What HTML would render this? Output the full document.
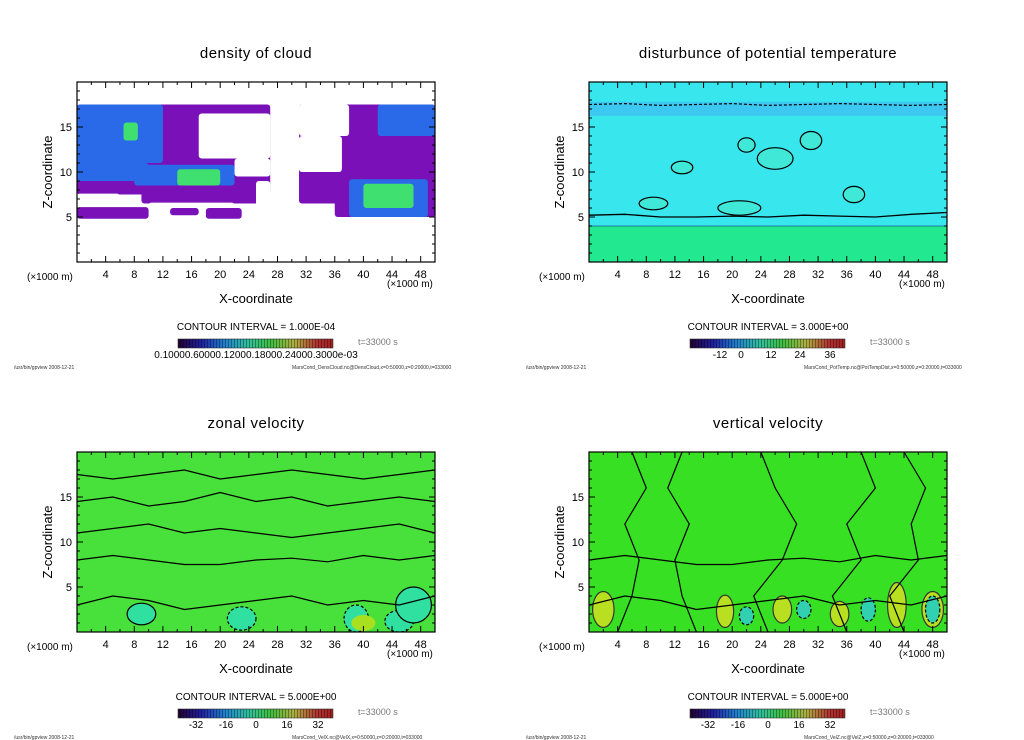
<!DOCTYPE html>
<html><head><meta charset="utf-8"><style>
html,body{margin:0;padding:0;background:#fff;}
svg{display:block;font-family:"Liberation Sans",sans-serif;}
</style></head><body>
<svg id="s" width="1024" height="740" viewBox="0 0 1024 740" xmlns="http://www.w3.org/2000/svg">
<defs>
<linearGradient id="cb" x1="0" x2="1" y1="0" y2="0">
<stop offset="0" stop-color="#200030"/><stop offset="0.15" stop-color="#2020a0"/><stop offset="0.3" stop-color="#2080d0"/><stop offset="0.45" stop-color="#30c0a0"/><stop offset="0.6" stop-color="#40c040"/><stop offset="0.75" stop-color="#b0b040"/><stop offset="0.9" stop-color="#b03030"/><stop offset="1" stop-color="#a02020"/>
</linearGradient>
<pattern id="stripe" width="3" height="10" patternUnits="userSpaceOnUse"><rect x="0" width="1" height="10" fill="rgba(0,0,0,0.35)"/></pattern>
</defs>
</svg>
<script>
// ---- data (x in 1000 m, z in 1000 m) ----
const xTicks=[4,8,12,16,20,24,28,32,36,40,44,48];
const zTicks=[5,10,15];
const titles=["density of cloud","disturbunce of potential temperature","zonal velocity","vertical velocity"];
const intervals=["1.000E-04","3.000E+00","5.000E+00","5.000E+00"];
const files=["MarsCond_DensCloud.nc@DensCloud,x=0:50000,z=0:20000,t=033000","MarsCond_PotTemp.nc@PotTempDist,x=0:50000,z=0:20000,t=033000","MarsCond_VelX.nc@VelX,x=0:50000,z=0:20000,t=033000","MarsCond_VelZ.nc@VelZ,x=0:50000,z=0:20000,t=033000"];
const cbLabels=[["0.10000.60000.12000.18000.24000.3000e-03"],["-12","0","12","24","36"],["-32","-16","0","16","32"],["-32","-16","0","16","32"]];
// cloud blobs: [x0,x1,z0,z1]
const cloudPurple=[[0,27,7.5,17.5],[31,50,6.5,17.5],[0,10,4.8,6.1],[18,23,4.8,6],[13,17,5.2,6],[36,50,5,9],[9,26,6.5,8]];
const cloudGaps=[[17,27,11.5,16.5],[22,27,9.5,11.5],[27,31,4,18],[0,6,6.2,7.6],[31,37,10,14],[31,38,14,17.5],[10,22,6.1,6.6],[25,27,6,9]];
const cloudBlue=[[0,12,11,17.5],[0,10,9,11],[8,22,8.5,10.8],[42,50,14,17.5],[38,49,5,9.2]];
const cloudGreen=[[6.5,8.5,13.5,15.5],[14,20,8.5,10.3],[40,47,6,8.7]];
// pot temp contours (zero lines) z values along x
const ptX=[0,5,10,15,20,25,30,35,40,45,50];
const ptLow=[5.2,5.3,5,5,5.1,5,5.2,5.1,5,5.3,5.5];
const ptTop=[17.5,17.6,17.4,17.5,17.6,17.4,17.5,17.6,17.5,17.4,17.5];
const ptBlobs=[[13,10.5,1.5,0.7],[26,11.5,2.5,1.2],[22,13,1.2,0.8],[9,6.5,2,0.7],[31,13.5,1.5,1],[37,7.5,1.5,0.9],[21,6,3,0.8]];
// zonal / vertical contours
const zvLines=[[3,4,3.5,2.5,3,3.5,4,3,3.5,3,4],[8,8.5,8,7.5,7.5,8,8.2,7.8,8.5,8,8.5],[11,11.5,12,11,11.5,11,10.5,11,11.5,12,11],[14.5,15,14,14.5,15.5,14.5,15,14,14.5,15,14.5],[17.5,17,17.5,18,17,17.5,18,17.5,17,17.5,18]];
const zvBlobs=[[9,2,2,1.2],[23,1.5,2,1.3],[39,1.5,1.7,1.5],[45,1.2,2,1.2],[47,3,2.5,2]];
const vvBlobs=[[2,2.5,1.5,2],[19,2.3,1.2,1.8],[27,2.5,1.3,1.5],[35,2,1.3,1.4],[43,3,1.3,2.5],[48,2.5,1.5,2]];
const vvCold=[[48,2.5,1,1.5],[39,2.5,1,1.3],[30,2.5,1,1],[22,1.8,1,1]];
const vvLinesX=[[4,6,7,5,8,6],[15,13,12,14,11,13],[25,23,27,29,26,24],[36,34,38,36,40,38],[44,42,46,45,47,44]];

const svg=document.getElementById('s');
const NS="http://www.w3.org/2000/svg";
function el(t,a,p){const e=document.createElementNS(NS,t);for(const k in a)e.setAttribute(k,a[k]);(p||svg).appendChild(e);return e;}
function txt(s,a,p){const e=el('text',a,p);e.textContent=s;return e;}

const offs=[[0,0],[512,0],[0,370],[512,370]];
const names=["cloud-density","potential-temperature","zonal-velocity","vertical-velocity"];
offs.forEach((o,i)=>{
  const g=el('g',{transform:`translate(${o[0]},${o[1]})`});
  
  
  const X=v=>77+v*358/50, Z=v=>262-v*9;
  const clip='c'+i;
  const cp=el('clipPath',{id:clip},g);el('rect',{x:77,y:82,width:358,height:180},cp);
  const plot=el('g',{'clip-path':`url(#${clip})`},g);
  
  
  const rect=(r,f)=>{const e=el('rect',{x:X(r[0]),y:Z(r[3]),width:X(r[1])-X(r[0]),height:Z(r[2])-Z(r[3]),fill:f,rx:3},plot);};
  const ell=(b,f,s,d)=>{const e=el('ellipse',{cx:X(b[0]),cy:Z(b[1]),rx:b[2]*358/50,ry:b[3]*9,fill:f,stroke:s||'none','stroke-width':1.2,'stroke-dasharray':d||''},plot);};
  const line=(zs,s,w,d)=>{const n=zs.length;let p=zs.map((z,k)=>`${X(k*50/(n-1))},${Z(z)}`).join(' ');const e=el('polyline',{points:p,fill:'none',stroke:s,'stroke-width':w,'stroke-dasharray':d||''},plot);};
  if(i===0){
    cloudPurple.forEach(r=>rect(r,'#7a10b8'));
    cloudGaps.forEach(r=>rect(r,'#fff'));
    cloudBlue.forEach(r=>rect(r,'#2a6ae8'));
    cloudGreen.forEach(r=>rect(r,'#40e070'));
  } else if(i===1){
    el('rect',{x:77,y:82,width:358,height:180,fill:'#38e6ee'},plot);
    el('rect',{x:77,y:Z(4),width:358,height:Z(0)-Z(4),fill:'#22e890'},plot);
    el('rect',{x:77,y:Z(17.8),width:358,height:14,fill:'#3cc8f0'},plot);
    line(ptLow,'#000',1.3);line(ptTop,'#000',1.2,'3,2');line(ptX.map(()=>4),'#117',0.6);
    ptBlobs.forEach(b=>ell(b,'#40e8d8','#000'));
  } else if(i===2){
    el('rect',{x:77,y:82,width:358,height:180,fill:'#48e03a'},plot);
    zvBlobs.forEach(b=>ell(b,'#30e0a0','#000',b[1]<2?'3,2':''));
    el('ellipse',{cx:X(40),cy:Z(1),rx:12,ry:8,fill:'#a8e020'},plot);
    zvLines.forEach(z=>line(z,'#000',1.2));
  } else {
    el('rect',{x:77,y:82,width:358,height:180,fill:'#38e024'},plot);
    vvBlobs.forEach(b=>ell(b,'#b8e020','#333'));
    vvCold.forEach(b=>ell(b,'#30d0b0','#000','3,2'));
    zvLines.slice(0,2).forEach(z=>line(z,'#000',1.2));
    vvLinesX.forEach(xs=>{const p=xs.map((x,k)=>`${X(x)},${Z(k*4)}`).join(' ');const e=el('polyline',{points:p,fill:'none',stroke:'#000','stroke-width':1.2},plot);});
  }
  const fr=el('rect',{x:77,y:82,width:358,height:180,fill:'none',stroke:'#000','stroke-width':1.2},g);
  
  for(let v=2;v<50;v+=2){const L=v%4===0?6:3;el('line',{x1:X(v),x2:X(v),y1:262,y2:262-L,stroke:'#000'},g);el('line',{x1:X(v),x2:X(v),y1:82,y2:82+L,stroke:'#000'},g);}
  for(let v=1;v<20;v++){const L=v%5===0?6:3;el('line',{x1:77,x2:77+L,y1:Z(v),y2:Z(v),stroke:'#000'},g);el('line',{x1:435,x2:435-L,y1:Z(v),y2:Z(v),stroke:'#000'},g);}
  xTicks.forEach(v=>{const t=txt(String(v),{x:X(v),y:278,'font-size':11,'text-anchor':'middle'},g);});
  zTicks.forEach(v=>{const t=txt(String(v),{x:72,y:Z(v)+4,'font-size':11,'text-anchor':'end'},g);});
  let t=txt(titles[i],{x:256,y:58,'font-size':15,'text-anchor':'middle','letter-spacing':'0.5'},g);
  t=txt('X-coordinate',{x:256,y:303,'font-size':13,'text-anchor':'middle'},g);
  t=txt('Z-coordinate',{x:52,y:172,'font-size':13,'text-anchor':'middle',transform:'rotate(-90 52 172)'},g);
  t=txt('(×1000 m)',{x:27,y:280,'font-size':10},g);
  t=txt('(×1000 m)',{x:387,y:287,'font-size':10},g);
  t=txt('CONTOUR INTERVAL = '+intervals[i],{x:256,y:330,'font-size':10,'text-anchor':'middle'},g);
  const cb=el('rect',{x:178,y:339,width:155,height:9,fill:'url(#cb)',stroke:'#333','stroke-width':0.6},g);
  el('rect',{x:178,y:339,width:155,height:9,fill:'url(#stripe)'},g);
  t=txt('t=33000 s',{x:358,y:345,'font-size':9,fill:'#777'},g);
  const labs=cbLabels[i];
  if(labs.length===1){t=txt(labs[0],{x:256,y:358,'font-size':10,'text-anchor':'middle'},g);}
  else labs.forEach((s,k)=>{const xs=i===1?[208,229,259,288,318]:[196,226,256,287,318];const tt=txt(s,{x:xs[k],y:358,'font-size':10,'text-anchor':'middle'},g);});
  t=txt('/usr/bin/gpview   2008-12-21',{x:14,y:369,'font-size':5,fill:'#333'},g);
  t=txt(files[i],{x:292,y:369,'font-size':5,fill:'#333'},g);
});
</script>
</body></html>
